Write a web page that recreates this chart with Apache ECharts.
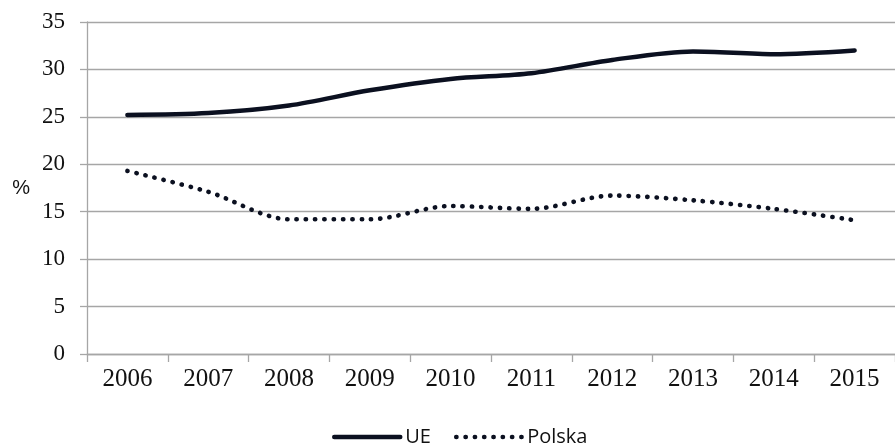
<!DOCTYPE html>
<html style="height: 100%">
   <head>
       <meta charset="utf-8">
       <title>UE / Polska</title>
   </head>
   <body style="height: 100%; margin: 0">
       <div id="container" style="width: 895px; height: 446px"></div>
       <script type="text/javascript" src="https://cdn.jsdelivr.net/npm/echarts@6/dist/echarts.min.js"></script>
       <script type="text/javascript">
           // dane
           var years = ['2006', '2007', '2008', '2009', '2010', '2011', '2012', '2013', '2014', '2015'];
           var ue = [25.2, 25.4, 26.2, 27.8, 29.0, 29.6, 31.0, 31.9, 31.6, 32.0];
           var polska = [19.3, 17.1, 14.2, 14.2, 15.6, 15.3, 16.7, 16.2, 15.3, 14.1];

           var dom = document.getElementById("container");
           var myChart = echarts.init(dom);
           var serif = '"Liberation Serif", "DejaVu Serif", serif';
           var gray = '#a6a6a6';

           var option = {
               animation: false,
               backgroundColor: '#fff',
               grid: { left: 87, top: 22, bottom: 92, right: -2 },
               legend: {
                   left: 327,
                   top: 422,
                   itemWidth: 66,
                   itemHeight: 14,
                   itemGap: 23,
                   itemStyle: { opacity: 0 },
                   lineStyle: { width: 4.5, cap: 'round' },
                   textStyle: { fontFamily: '"Open Sans", sans-serif', fontSize: 20, color: '#111' },
                   data: ['UE', 'Polska']
               },
               xAxis: {
                   type: 'category',
                   data: years,
                   boundaryGap: true,
                   axisLine: { lineStyle: { color: gray, width: 1.3 } },
                   axisTick: { show: true, length: 8, lineStyle: { color: gray, width: 1.3 } },
                   axisLabel: { fontFamily: serif, fontSize: 25, color: '#111', margin: 13 }
               },
               yAxis: {
                   type: 'value',
                   min: 0,
                   max: 35,
                   interval: 5,
                   name: '%',
                   nameLocation: 'middle',
                   nameRotate: 0,
                   nameGap: 57,
                   nameTextStyle: { fontFamily: '"Liberation Sans", sans-serif', fontSize: 20, color: '#111' },
                   axisLine: { show: true, lineStyle: { color: gray, width: 1.3 } },
                   axisTick: { show: true, inside: false, length: 7, lineStyle: { color: gray, width: 1.3 } },
                   axisLabel: { fontFamily: serif, fontSize: 23, color: '#111', margin: 22 },
                   splitLine: { lineStyle: { color: gray, width: 1.3 } }
               },
               series: [
                   {
                       name: 'UE',
                       type: 'line',
                       data: ue,
                       smooth: 0.3,
                       symbol: 'none',
                       color: '#0b1020',
                       lineStyle: { width: 4.5, color: '#0b1020', cap: 'round' }
                   },
                   {
                       name: 'Polska',
                       type: 'line',
                       data: polska,
                       smooth: 0.3,
                       symbol: 'none',
                       color: '#0b1020',
                       lineStyle: { width: 4.6, color: '#0b1020', type: [0.3, 9], cap: 'round' }
                   }
               ]
           };

           myChart.setOption(option);
       </script>
   </body>
</html>
